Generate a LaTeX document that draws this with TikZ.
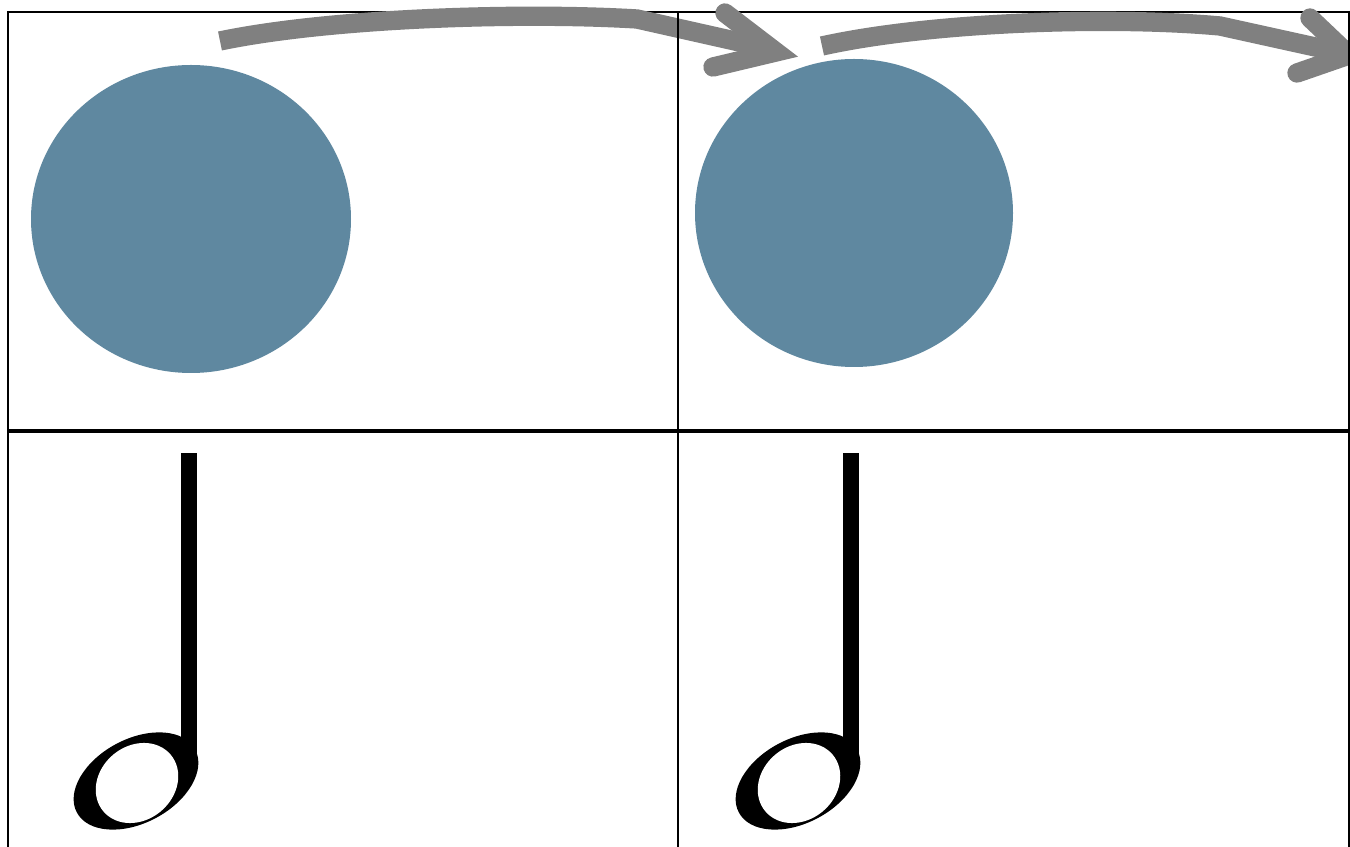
\documentclass[tikz,border=0pt]{standalone}
\usepackage{tikz}
\definecolor{bluedot}{HTML}{5F88A0}
\definecolor{greyarrow}{HTML}{808080}
\tikzset{
  gridline/.style={black,line width=1.2pt},
  midline/.style={black,line width=2.2pt},
  bendarrow/.style={greyarrow,line width=11pt},
  barb/.style={greyarrow,line width=11pt,line cap=round,line join=miter}
}
% half note, shifted along x
\newcommand{\halfnote}[1]{%
  \begin{scope}[shift={(#1,0)}]
    \fill[black] (181,453) rectangle (197,772);
    \fill[black,rotate around={28:(136,781)}] (136,781) ellipse [x radius=67,y radius=42];
    \fill[white,rotate around={40:(137,783)}] (137,783) ellipse [x radius=44,y radius=37];
  \end{scope}}

\begin{document}
\begin{tikzpicture}[x=0.02cm,y=-0.02cm]
  \useasboundingbox (0,0) rectangle (1350,847);
  \fill[white] (0,0) rectangle (1350,847);
  \begin{scope}
    \clip (0,0) rectangle (1350,847);
    % table
    \draw[gridline] (8,12) -- (1349,12);
    \draw[midline] (8,431) -- (1349,431);
    % dots
    \fill[bluedot] (191,219) ellipse [x radius=160,y radius=154];
    \fill[bluedot] (854,213) ellipse [x radius=159,y radius=154];
    % arrows
    \draw[bendarrow] (220,41) .. controls (330,18) and (520,12) .. (637,19) -- (766,48);
    \draw[barb] (725,13) -- (776,52) -- (713,67);
    \draw[bendarrow] (822,46) .. controls (930,22) and (1110,16) .. (1220,26) -- (1338,52);
    \draw[barb] (1310,18) -- (1349,55) -- (1297,73);
    \draw[gridline] (8,11) -- (8,847);
    \draw[gridline] (678,12) -- (678,847);
    \draw[gridline] (1349,11) -- (1349,847);
    % notes
    \halfnote{0}
    \halfnote{662}
  \end{scope}
\end{tikzpicture}
\end{document}
